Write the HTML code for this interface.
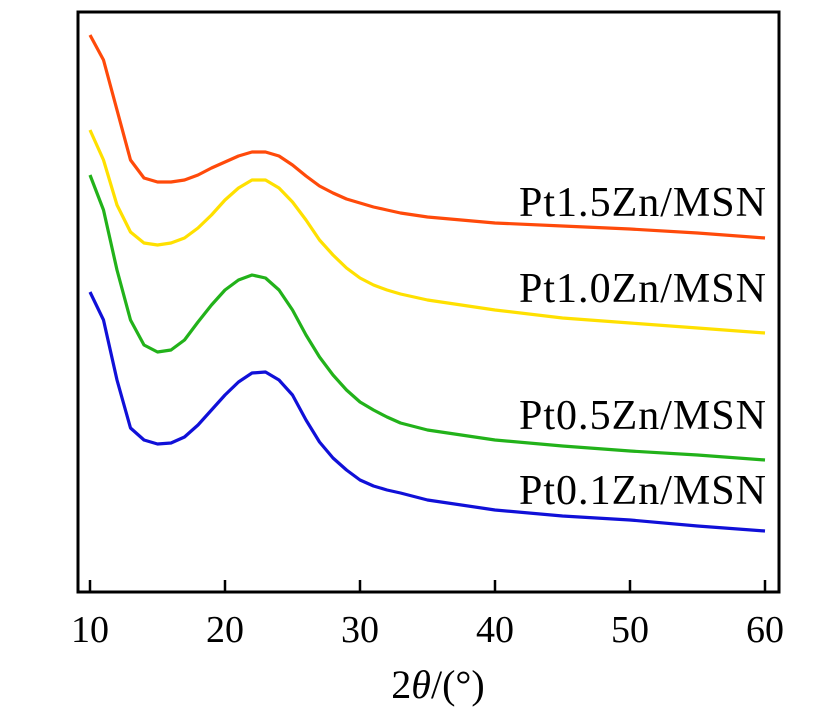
<!DOCTYPE html>
<html><head><meta charset="utf-8"><style>
body{margin:0;background:#fff;}
svg{display:block;font-family:"Liberation Serif",serif;}
</style></head><body>
<svg id="chart" width="828" height="709">
<rect x="78" y="12" width="701" height="580" fill="none" stroke="#000" stroke-width="3"/>
<g id="xticks"></g>
<g id="series"></g>
<g id="labels"></g>
<text x="438" y="698" font-size="40" text-anchor="middle">2<tspan font-style="italic">θ</tspan>/(°)</text>
</svg>
<script>
const angles = [10,11,12,13,14,15,16,17,18,19,20,21,22,23,24,25,26,27,28,29,30,31,32,33,35,40,45,50,55,60];
const pt15 = [565,540,490,440,422,418,418,420,425,432,438,444,448,448,444,435,424,414,407,401,397,393,390,387,383,377,374,371,367,362];
const pt10 = [470,440,395,368,357,355,357,362,372,385,400,412,420,420,412,398,380,360,345,332,322,315,310,306,300,290,282,277,272,267];
const pt05 = [425,390,330,280,255,248,250,260,278,295,310,320,325,322,310,290,265,243,225,210,198,190,183,177,170,160,154,149,145,140];
const pt01 = [308,280,220,172,160,156,157,163,175,190,205,218,227,228,220,205,180,158,142,130,120,114,110,107,100,90,84,80,74,69];
const tickValues = [10,20,30,40,50,60];
const seriesNames = ["Pt1.5Zn/MSN","Pt1.0Zn/MSN","Pt0.5Zn/MSN","Pt0.1Zn/MSN"];
const seriesColors = ["#ff4a0a","#ffe000","#22b21a","#1010d8"];
const labelYs = [216,302,429,504];

const NS="http://www.w3.org/2000/svg";
const xs = v => 90 + (v-10)*(765-90)/50;
const ys = v => 600 - v;

const gt=document.getElementById('xticks');
tickValues.forEach(t=>{
  const l=document.createElementNS(NS,'line');
  l.setAttribute('x1',xs(t));l.setAttribute('x2',xs(t));
  l.setAttribute('y1',592);l.setAttribute('y2',580);
  l.setAttribute('stroke','#000');l.setAttribute('stroke-width','2.5');
  
  
  gt.appendChild(l);
  const tx=document.createElementNS(NS,'text');
  tx.setAttribute('x',xs(t));tx.setAttribute('y',642);
  tx.setAttribute('font-size','38');tx.setAttribute('text-anchor','middle');
  tx.textContent=t;
  
  
  gt.appendChild(tx);
});

const gs=document.getElementById('series');
[pt15,pt10,pt05,pt01].forEach((arr,i)=>{
  const p=document.createElementNS(NS,'path');
  p.setAttribute('d',arr.map((v,j)=>(j?'L':'M')+xs(angles[j]).toFixed(1)+','+ys(v).toFixed(1)).join(''));
  p.setAttribute('fill','none');p.setAttribute('stroke',seriesColors[i]);
  p.setAttribute('stroke-width','3.2');p.setAttribute('stroke-linejoin','round');
  
  
  gs.appendChild(p);
});

const gl=document.getElementById('labels');
seriesNames.forEach((n,i)=>{
  const tx=document.createElementNS(NS,'text');
  tx.setAttribute('x',766);tx.setAttribute('y',labelYs[i]);
  tx.setAttribute('font-size','42');tx.setAttribute('text-anchor','end');
  tx.setAttribute('textLength','247');
  tx.textContent=n;
  
  
  gl.appendChild(tx);
});
</script>
</body></html>
